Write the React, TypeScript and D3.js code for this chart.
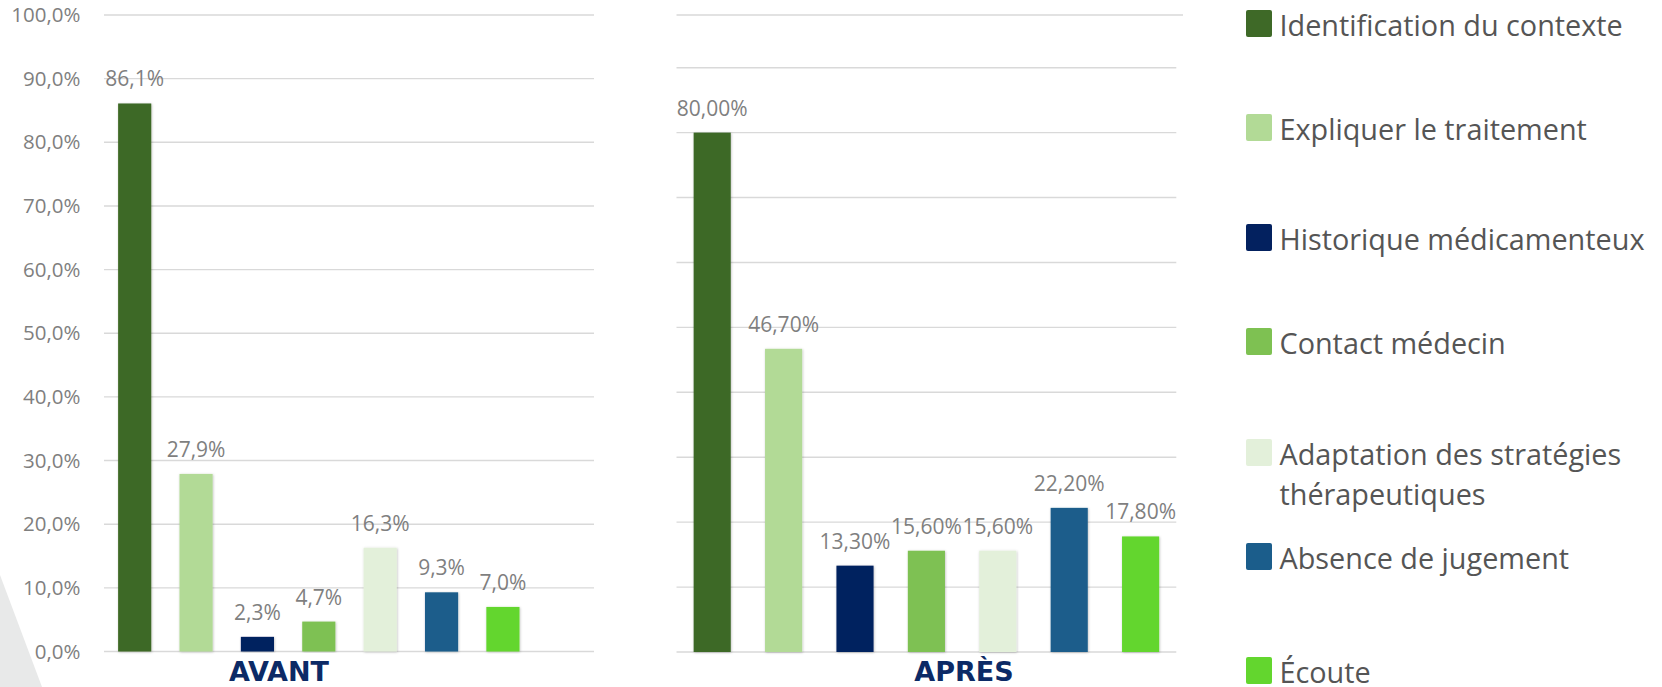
import React from "react";
import * as d3 from "d3";

// ---- data ----
const categories = [
  "Identification du contexte",
  "Expliquer le traitement",
  "Historique médicamenteux",
  "Contact médecin",
  "Adaptation des stratégies thérapeutiques",
  "Absence de jugement",
  "Écoute",
];
const colors = ["#3e6927", "#b2da96", "#03215f", "#7ec152", "#e3f0da", "#1b5d8b", "#63d62e"];
const avantValues = [86.1, 27.9, 2.3, 4.7, 16.3, 9.3, 7.0];
const apresValues = [80.0, 46.7, 13.3, 15.6, 15.6, 22.2, 17.8];
const leftTicks = [0, 10, 20, 30, 40, 50, 60, 70, 80, 90, 100];
const rightTicks = [0, 10, 20, 30, 40, 50, 60, 70, 80, 90];
const groupTitles = ["AVANT", "APRÈS"];

// ---- layout ----
const W = 1662;
const H = 687;
const legendTops = [10, 114, 224, 328, 439, 543, 657];
const FONT = "'Open Sans', sans-serif";
const GRAY = "#7f7f7f";
const GRID = "#d9d9d9";

const fmt = (digits: number) => (v: number) => d3.format(`.${digits}f`)(v).replace(".", ",") + "%";

function wrap(label: string, maxChars: number): string[] {
  const words = label.split(" ");
  const lines: string[] = [];
  let cur = "";
  for (const w of words) {
    const t = cur ? cur + " " + w : w;
    if (t.length > maxChars && cur) {
      lines.push(cur);
      cur = w;
    } else cur = t;
  }
  if (cur) lines.push(cur);
  return lines;
}

export default function App() {
  // left chart
  const xL = d3.scaleBand<string>().domain(categories).range([104, 533.6]).paddingInner(0.46).paddingOuter(0.23);
  const yL = d3.scaleLinear().domain([0, 100]).range([651.5, 15]);
  const gridL: [number, number] = [104, 594];

  // right chart
  const xR = d3.scaleBand<string>().domain(categories).range([676.5, 1176.3]).paddingInner(0.48).paddingOuter(0.24);
  const yR = d3.scaleLinear().domain([0, 90]).range([652, 67.7]);
  const gridR: [number, number] = [676.5, 1176.3];

  const fL = fmt(1);
  const fR = fmt(2);

  return (
    <svg
      width={W}
      height={H}
      style={{ position: "absolute", left: 0, top: 0, background: "#fff" }}
      fontFamily={FONT}
    >
      <defs>
        <filter id="sh" x="-20%" y="-5%" width="140%" height="110%">
          <feDropShadow dx="0.6" dy="0.6" stdDeviation="1.2" floodColor="#000" floodOpacity="0.25" />
        </filter>
      </defs>
      <rect width={W} height={H} fill="#fff" />
      {/* decorative gray shape */}
      <polygon points="0,575 42,687 0,687" fill="#e8e9e9" />

      {/* left grid + ticks */}
      {leftTicks.map((t) => (
        <g key={"lg" + t}>
          <line x1={gridL[0]} x2={gridL[1]} y1={yL(t)} y2={yL(t)} stroke={GRID} strokeWidth={1.4} />
          <text x={80.5} y={yL(t)} dy="0.35em" textAnchor="end" fontSize={20.5} fill={GRAY}>
            {fL(t)}
          </text>
        </g>
      ))}
      {/* right grid */}
      <line x1={gridR[0]} x2={1183} y1={15} y2={15} stroke={GRID} strokeWidth={1.4} />
      {rightTicks.map((t) => (
        <line key={"rg" + t} x1={gridR[0]} x2={gridR[1]} y1={yR(t)} y2={yR(t)} stroke={GRID} strokeWidth={1.4} />
      ))}

      {/* left bars */}
      {categories.map((c, i) => (
        <g key={"lb" + i}>
          <rect
            x={xL(c)}
            y={yL(avantValues[i])}
            width={xL.bandwidth()}
            height={yL(0) - yL(avantValues[i])}
            fill={colors[i]}
            filter="url(#sh)"
          />
          <text x={(xL(c) as number) + xL.bandwidth() / 2} y={yL(avantValues[i]) - 17} textAnchor="middle" fontSize={21} fill={GRAY}>
            {fL(avantValues[i])}
          </text>
        </g>
      ))}
      {/* right bars */}
      {categories.map((c, i) => (
        <g key={"rb" + i}>
          <rect
            x={xR(c)}
            y={yR(apresValues[i])}
            width={xR.bandwidth()}
            height={yR(0) - yR(apresValues[i])}
            fill={colors[i]}
            filter="url(#sh)"
          />
          <text x={(xR(c) as number) + xR.bandwidth() / 2} y={yR(apresValues[i]) - 17} textAnchor="middle" fontSize={21} fill={GRAY}>
            {fR(apresValues[i])}
          </text>
        </g>
      ))}

      {/* group titles */}
      <text x={279} y={681} textAnchor="middle" fontFamily="'DejaVu Sans', sans-serif" fontWeight="bold" fontSize={27} fill="#0c2a66">
        {groupTitles[0]}
      </text>
      <text x={964} y={681} textAnchor="middle" fontFamily="'DejaVu Sans', sans-serif" fontWeight="bold" fontSize={27} fill="#0c2a66">
        {groupTitles[1]}
      </text>

      {/* legend */}
      {categories.map((c, i) => {
        const top = legendTops[i];
        const lines = wrap(c, 26);
        return (
          <g key={"lg" + i}>
            <rect x={1246} y={top} width={26} height={27} rx={2} fill={colors[i]} />
            {lines.map((ln, j) => (
              <text key={j} x={1279.5} y={top + 25.5 + j * 40.7} fontSize={28.8} fill="#555">
                {ln}
              </text>
            ))}
          </g>
        );
      })}
    </svg>
  );
}
